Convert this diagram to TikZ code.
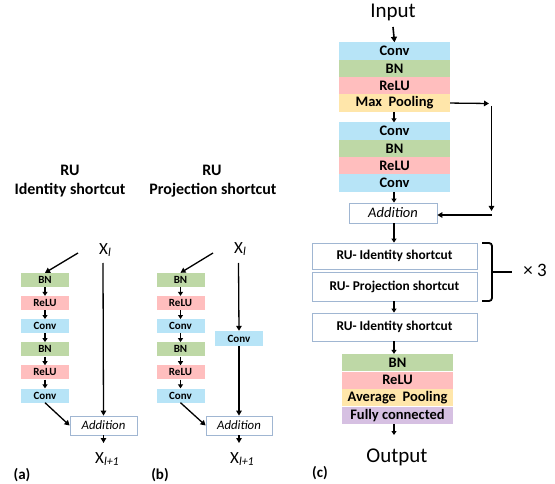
\documentclass[tikz,border=0pt]{standalone}
\usepackage{fontspec}
\setmainfont{Carlito}
\usetikzlibrary{arrows.meta}
\definecolor{convc}{RGB}{183,228,247}
\definecolor{bnc}{RGB}{190,216,166}
\definecolor{reluc}{RGB}{255,190,190}
\definecolor{poolc}{RGB}{255,230,170}
\definecolor{fcc}{RGB}{214,192,226}
\definecolor{rubc}{RGB}{160,182,210}
\newcommand{\xsub}[1]{X\raisebox{-1.5pt}{\fontsize{12}{12}\selectfont\itshape #1}}
\begin{document}
\begin{tikzpicture}[x=1pt,y=-1pt,
  sb/.style={inner sep=0, minimum width=48pt, minimum height=14pt, font=\fontsize{11}{11}\selectfont\bfseries},
  lb/.style={inner sep=0, minimum width=111pt, minimum height=17.3pt, font=\fontsize{14.5}{14.5}\selectfont\bfseries},
  rub/.style={draw=rubc, line width=0.8pt, inner sep=0, minimum width=165pt, font=\fontsize{13.4}{13.4}\selectfont\bfseries},
  addb/.style={draw=rubc, line width=0.8pt, fill=white, inner sep=0},
  ttl/.style={font=\fontsize{16}{16}\selectfont\bfseries, inner sep=0},
  lab/.style={font=\fontsize{15}{15}\selectfont\bfseries, inner sep=0},
  big/.style={font=\fontsize{21}{21}\selectfont, inner sep=0},
  xl/.style={font=\fontsize{17}{17}\selectfont, inner sep=0},
  arr/.style={-{Triangle[length=5.5pt,width=6pt]}, line width=1.6pt},
  marr/.style={-{Triangle[length=5pt,width=5.5pt]}, line width=1.3pt},
  sarr/.style={-{Triangle[length=4pt,width=5pt]}, line width=1.2pt}
]
\useasboundingbox (0,0) rectangle (555,484);

% ---------- panel (a)
\node[ttl] (ta1) at (70,170) {RU};
\node[ttl] (ta2) at (70,190) {Identity shortcut};
\node[xl] (xa) at (105,250) {\xsub{l}};
\node[sb, fill=bnc]   (a1) at (45,280) {BN};
\node[sb, fill=reluc] (a2) at (45,303.1) {ReLU};
\node[sb, fill=convc] (a3) at (45,326.2) {Conv};
\node[sb, fill=bnc]   (a4) at (45,349.3) {BN};
\node[sb, fill=reluc] (a5) at (45,372.4) {ReLU};
\node[sb, fill=convc] (a6) at (45,395.5) {Conv};
\node[addb, minimum width=67pt, minimum height=19pt, font=\fontsize{12.8}{12.8}\selectfont\itshape] (adda) at (103.5,425.5) {Addition};
\node[xl] (xa2) at (107,459) {\xsub{l+1}};
\node[lab] (la) at (22,475) {(a)};
\coordinate (xas) at (78,253);
\coordinate (xav) at (103,263);
\coordinate (xae) at (103.5,443);
\draw[marr] (xas) -- (a1.north);
\draw[sarr] (a1) -- (a2);
\draw[sarr] (a2) -- (a3);
\draw[sarr] (a3) -- (a4);
\draw[sarr] (a4) -- (a5);
\draw[sarr] (a5) -- (a6);
\draw[marr] (a6.south) -- (adda.west);
\draw[marr] (xav) -- (adda.north);
\draw[marr] (adda.south) -- (xae);

% ---------- panel (b)
\node[ttl] (tb1) at (212,170) {RU};
\node[ttl] (tb2) at (213,190) {Projection shortcut};
\node[xl] (xb) at (240,249) {\xsub{l}};
\node[sb, fill=bnc]   (b1) at (180.5,280) {BN};
\node[sb, fill=reluc] (b2) at (180.5,303.1) {ReLU};
\node[sb, fill=convc] (b3) at (180.5,326.2) {Conv};
\node[sb, fill=bnc]   (b4) at (180.5,349.3) {BN};
\node[sb, fill=reluc] (b5) at (180.5,372.4) {ReLU};
\node[sb, fill=convc] (b6) at (180.5,395.5) {Conv};
\node[sb, fill=convc, minimum height=15pt] (bp) at (239,338.5) {Conv};
\node[addb, minimum width=66pt, minimum height=19pt, font=\fontsize{12.8}{12.8}\selectfont\itshape] (addb) at (239,425.5) {Addition};
\node[xl] (xb2) at (242,459) {\xsub{l+1}};
\node[lab] (lb) at (160,475) {(b)};
\coordinate (xbs) at (213,253);
\coordinate (xbv) at (238.5,263);
\coordinate (xbe) at (239,443);
\draw[marr] (xbs) -- (b1.north);
\draw[sarr] (b1) -- (b2);
\draw[sarr] (b2) -- (b3);
\draw[sarr] (b3) -- (b4);
\draw[sarr] (b4) -- (b5);
\draw[sarr] (b5) -- (b6);
\draw[marr] (b6.south) -- (addb.west);
\draw[marr] (xbv) -- (bp.north);
\draw[marr] (bp.south) -- (addb.north);
\draw[marr] (addb.south) -- (xbe);

% ---------- panel (c)
\node[big] (inp) at (393,12) {Input};
\node[lb, fill=convc] (c1) at (394.5,51.15) {Conv};
\node[lb, fill=bnc]   (c2) at (394.5,68.45) {BN};
\node[lb, fill=reluc] (c3) at (394.5,85.75) {ReLU};
\node[lb, fill=poolc] (c4) at (394.5,103.05) {Max\ \ Pooling};
\node[lb, fill=convc] (c5) at (394.5,131.15) {Conv};
\node[lb, fill=bnc]   (c6) at (394.5,148.45) {BN};
\node[lb, fill=reluc] (c7) at (394.5,165.75) {ReLU};
\node[lb, fill=convc] (c8) at (394.5,183.05) {Conv};
\node[addb, minimum width=88pt, minimum height=20pt, font=\fontsize{14.5}{14.5}\selectfont\itshape] (addc) at (393,213) {Addition};
\node[rub, minimum height=26pt] (r1) at (394.5,256) {RU- Identity shortcut};
\node[rub, minimum height=29pt] (r2) at (394.5,286.5) {RU- Projection shortcut};
\node[rub, minimum height=28pt] (r3) at (394.5,327) {RU- Identity shortcut};
\node[lb, fill=bnc]   (d1) at (397.5,362.75) {BN};
\node[lb, fill=reluc] (d2) at (397.5,380.25) {ReLU};
\node[lb, fill=poolc] (d3) at (397.5,397.75) {Average\ \ Pooling};
\node[lb, fill=fcc]   (d4) at (397.5,415.25) {Fully connected};
\node[big] (outp) at (397,457) {Output};
\node[lab] (lc) at (320,473) {(c)};
\node[font=\fontsize{19}{19}\selectfont, inner sep=0] (x3) at (535,270) {× 3};

\coordinate (ins) at (393,27);
\draw[arr] (ins) -- (c1.north);
\draw[sarr] (c4.south -| 394,0) -- (c5.north -| 394,0);
\draw[sarr] (c8.south -| 394,0) -- (addc.north -| 394,0);
\coordinate (mpe) at (489,103.5);
\coordinate (vt) at (491.5,106);
\coordinate (vb) at (491.5,211);
\coordinate (hs) at (492,215);
\draw[marr] (c4.east) -- (mpe);
\draw[marr] (vt) -- (vb);
\draw[marr] (hs) -- (addc.east |- hs);
\draw[sarr] (addc.south -| 394,0) -- (r1.north -| 394,0);
\draw[sarr] (r2.south -| 394,0) -- (r3.north -| 394,0);
\draw[sarr] (r3.south -| 394,0) -- (d1.north -| 394,0);
\coordinate (oe) at (394,435);
\draw[sarr] (d4.south -| 394,0) -- (oe);
% brace
\coordinate (br1) at (482,243);
\coordinate (br2) at (482,301);
\coordinate (brm) at (512,272);
\draw[line width=1.8pt, rounded corners=3pt] (br1) -- (492,243) -- (492,301) -- (br2);
\draw[line width=1.8pt] (492,272) -- (brm);
\end{tikzpicture}
\end{document}
